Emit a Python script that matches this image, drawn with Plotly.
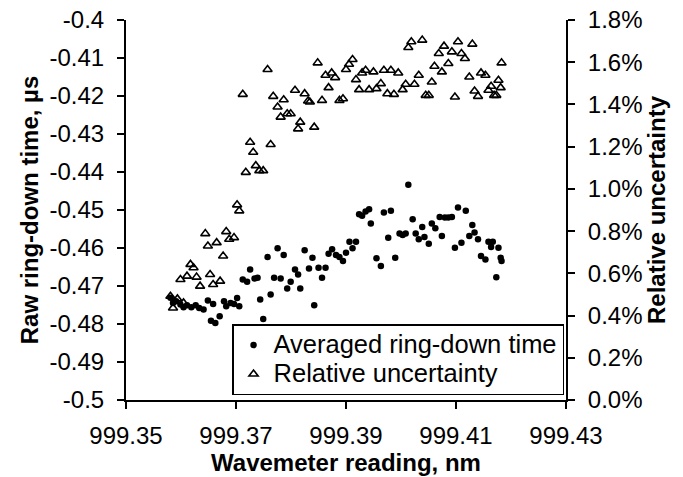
import plotly.graph_objects as go

# Averaged ring-down time (left axis)
dot_x = [999.35808, 999.35855, 999.35911, 999.35990, 999.36046, 999.36109, 999.36188, 999.36267, 999.36331, 999.36410,
         999.36489, 999.36584, 999.36545, 999.36624, 999.36703, 999.36782, 999.36822, 999.36901, 999.36964, 999.37020,
         999.37059, 999.37123, 999.37202, 999.37257, 999.37337, 999.37392, 999.37440, 999.37495, 999.37574, 999.37630,
         999.37693, 999.37756, 999.37812, 999.37867, 999.37931, 999.37994, 999.38073, 999.38129, 999.38168, 999.38248,
         999.38327, 999.38390, 999.38422, 999.38501, 999.38564, 999.38628, 999.38683, 999.38747, 999.38818, 999.38881,
         999.38945, 999.39000, 999.39063, 999.39119, 999.39182, 999.39238, 999.39293, 999.39356, 999.39420, 999.39451,
         999.39554, 999.39634, 999.39689, 999.39768, 999.39816, 999.39895, 999.39974, 999.40030, 999.40085, 999.40133,
         999.40212, 999.40267, 999.40323, 999.40386, 999.40426, 999.40505, 999.40560, 999.40624, 999.40703, 999.40743,
         999.40798, 999.40861, 999.40925, 999.40980, 999.41036, 999.41099, 999.41178, 999.41242, 999.41297, 999.41337,
         999.41400, 999.41455, 999.41535, 999.41590, 999.41638, 999.41669, 999.41733, 999.41772, 999.41812, 999.41828]
dot_y = [-0.4731, -0.47445, -0.47401, -0.47489, -0.4756, -0.47507, -0.4756, -0.47507, -0.47577, -0.47621,
         -0.47383, -0.47471, -0.47912, -0.47974, -0.47797, -0.47401, -0.47533, -0.47445, -0.47471, -0.47313,
         -0.47533, -0.46828, -0.4689, -0.46564, -0.46802, -0.46784, -0.47357, -0.47868, -0.46238, -0.47225,
         -0.46784, -0.46009, -0.46802, -0.46185, -0.47066, -0.4689, -0.46564, -0.46696, -0.47066, -0.46062,
         -0.46537, -0.46256, -0.47507, -0.4652, -0.46784, -0.4652, -0.4615, -0.46035, -0.46185, -0.46238,
         -0.46344, -0.46123, -0.45833, -0.46009, -0.45833, -0.4511, -0.45154, -0.4504, -0.44978, -0.45357,
         -0.46273, -0.46476, -0.45066, -0.45727, -0.45022, -0.46256, -0.45621, -0.45656, -0.45621, -0.44335,
         -0.45242, -0.45621, -0.45771, -0.45445, -0.45709, -0.45885, -0.45357, -0.4548, -0.45181, -0.45683,
         -0.45198, -0.45198, -0.45181, -0.45991, -0.44934, -0.45859, -0.45022, -0.45683, -0.45392, -0.45595,
         -0.45771, -0.46211, -0.463, -0.45833, -0.45974, -0.45833, -0.46767, -0.45991, -0.46256, -0.46344]

# Relative uncertainty (right axis), in percent
tri_x = [999.35808, 999.35855, 999.35935, 999.35990, 999.36046, 999.36109, 999.36172, 999.36228, 999.36283, 999.36347,
         999.36442, 999.36489, 999.36529, 999.36584, 999.36648, 999.36711, 999.36766, 999.36822, 999.36877, 999.36964,
         999.37020, 999.37059, 999.37123, 999.37178, 999.37257, 999.37313, 999.37360, 999.37424, 999.37495, 999.37574,
         999.37630, 999.37677, 999.37756, 999.37812, 999.37867, 999.37931, 999.37994, 999.38073, 999.38129, 999.38168,
         999.38248, 999.38311, 999.38343, 999.38422, 999.38485, 999.38564, 999.38628, 999.38683, 999.38739, 999.38802,
         999.38881, 999.38945, 999.39000, 999.39055, 999.39119, 999.39182, 999.39238, 999.39293, 999.39356, 999.39420,
         999.39499, 999.39554, 999.39634, 999.39689, 999.39752, 999.39816, 999.39871, 999.39950, 999.40030, 999.40085,
         999.40133, 999.40188, 999.40244, 999.40323, 999.40386, 999.40449, 999.40505, 999.40560, 999.40608, 999.40687,
         999.40743, 999.40782, 999.40861, 999.40925, 999.40980, 999.41036, 999.41099, 999.41162, 999.41242, 999.41297,
         999.41337, 999.41400, 999.41455, 999.41535, 999.41590, 999.41638, 999.41693, 999.41733, 999.41772, 999.41812,
         999.41828]
tri_pct = [0.4916, 0.4361, 0.4789, 0.5709, 0.4599, 0.5867, 0.6422, 0.6264, 0.582, 0.5392,
           0.7881, 0.7295, 0.5947, 0.5471, 0.7453, 0.563, 0.6819, 0.7977, 0.7612, 0.7691,
           0.9245, 0.896, 1.4478, 1.0783, 1.2211, 1.1735, 1.1101, 1.0863, 1.0863, 1.5652,
           1.21, 1.4383, 1.3876, 1.34, 1.4225, 1.3559, 1.3559, 1.4669, 1.2845, 1.3162,
           1.451, 1.4161, 1.4113, 1.2924, 1.5969, 1.4193, 1.5382, 1.4795, 1.5493, 1.5271,
           1.4193, 1.4272, 1.5652, 1.5906, 1.6128, 1.5176, 1.47, 1.5493, 1.562, 1.47,
           1.5541, 1.4748, 1.4986, 1.562, 1.451, 1.562, 1.4478, 1.5493, 1.47, 1.4954,
           1.6698, 1.6968, 1.4954, 1.5382, 1.7047, 1.4431, 1.4431, 1.5065, 1.581, 1.6413,
           1.5541, 1.6762, 1.5937, 1.6492, 1.4351, 1.6968, 1.6413, 1.6175, 1.5303, 1.6857,
           1.4637, 1.4383, 1.5493, 1.5382, 1.4669, 1.4859, 1.4431, 1.4431, 1.5144, 1.4795,
           1.5969]

series_names = ["Averaged ring-down time", "Relative uncertainty"]

x_tickvals = [999.35, 999.37, 999.39, 999.41, 999.43]
x_ticktext = ["999.35", "999.37", "999.39", "999.41", "999.43"]
y_tickvals = [-0.5, -0.49, -0.48, -0.47, -0.46, -0.45, -0.44, -0.43, -0.42, -0.41, -0.4]
y_ticktext = ["-0.5", "-0.49", "-0.48", "-0.47", "-0.46", "-0.45", "-0.44", "-0.43", "-0.42", "-0.41", "-0.4"]
y2_tickvals = [0.0, 0.2, 0.4, 0.6, 0.8, 1.0, 1.2, 1.4, 1.6, 1.8]
y2_ticktext = ["0.0%", "0.2%", "0.4%", "0.6%", "0.8%", "1.0%", "1.2%", "1.4%", "1.6%", "1.8%"]

FONT = "Liberation Sans, Arial, sans-serif"


def legend_label(s):
    return '<span style="font-size:25.5px">' + s + '</span>'


fig = go.Figure()
fig.add_trace(go.Scatter(
    x=dot_x, y=dot_y, mode="markers", name=legend_label(series_names[0]),
    marker=dict(symbol="circle", size=6.5, color="black", line=dict(width=0)),
))
fig.add_trace(go.Scatter(
    x=tri_x, y=tri_pct, mode="markers", name=legend_label(series_names[1]), yaxis="y2",
    marker=dict(symbol="triangle-up-open", size=8, color="black", line=dict(width=1.6, color="black")),
))

axis_common = dict(
    showgrid=False, zeroline=False, showline=True, linecolor="black", linewidth=2,
    ticks="outside", ticklen=7, tickwidth=2, tickcolor="black",
    tickfont=dict(family=FONT, size=24, color="black"),
)

fig.update_layout(
    width=683, height=477,
    margin=dict(l=126, r=117, t=20, b=77, autoexpand=False),
    paper_bgcolor="white", plot_bgcolor="white",
    font=dict(family=FONT, color="black"),
    showlegend=True,
    legend=dict(
        x=0.241, y=0.013, xanchor="left", yanchor="bottom",
        bordercolor="black", borderwidth=1.5, bgcolor="white",
        font=dict(family=FONT, size=20, color="black"),
        itemwidth=30, tracegroupgap=0,
    ),
    xaxis=dict(
        range=[999.35, 999.43], tickmode="array", tickvals=x_tickvals, ticktext=x_ticktext,
        ticklabelstandoff=6,
        title=dict(text="<b>Wavemeter reading, nm</b>", font=dict(family=FONT, size=24, color="black"), standoff=4),
        automargin=False, mirror=False, **axis_common,
    ),
    yaxis=dict(
        range=[-0.5, -0.4], tickmode="array", tickvals=y_tickvals, ticktext=y_ticktext,
        ticklabelstandoff=8,
        title=dict(text="<b>Raw ring-down time, µs</b>", font=dict(family=FONT, size=24, color="black"), standoff=4),
        automargin=False, **axis_common,
    ),
    yaxis2=dict(
        range=[0, 1.8], tickmode="array", tickvals=y2_tickvals, ticktext=y2_ticktext,
        overlaying="y", side="right", anchor="x", ticklabelstandoff=8,
        title=dict(text="<b>Relative uncertainty</b>", font=dict(family=FONT, size=24, color="black"), standoff=5),
        automargin=False, **axis_common,
    ),
)

fig.write_html("out.html")
